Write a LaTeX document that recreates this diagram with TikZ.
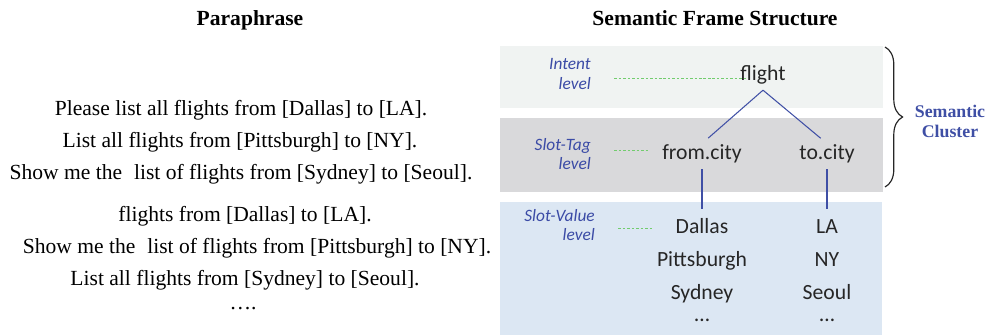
\documentclass[tikz,border=0pt]{standalone}
\usepackage{fontspec}
\setmainfont{Liberation Serif}
\newfontfamily\calib{Carlito}
\usetikzlibrary{calc,decorations.pathreplacing}

\definecolor{lvlblue}{HTML}{3B4BA6}
\definecolor{treeblue}{HTML}{3F4FA5}
\definecolor{guidegreen}{HTML}{72CC6E}
\definecolor{intentbg}{HTML}{F0F3F2}
\definecolor{tagbg}{HTML}{D9D9DB}
\definecolor{valuebg}{HTML}{DCE7F3}

\tikzset{
	sent/.style={anchor=base, inner sep=0pt, font=\fontsize{18.4}{22}\selectfont},
	heading/.style={anchor=base, inner sep=0pt, font=\fontsize{18.4}{22}\selectfont\bfseries},
	frame/.style={anchor=base, inner xsep=0pt, inner ysep=6pt, text height=0.7em, text depth=0.25em,
		font=\calib\fontsize{18.5}{22}\selectfont, text=black!85},
	framerow/.style={frame, inner ysep=1pt},
	framemore/.style={frame, inner ysep=0pt, text height=0.15em, text depth=0pt},
	lvl/.style={anchor=east, inner sep=0pt, align=right, text=lvlblue,
		font=\calib\itshape\fontsize{14.8}{17}\selectfont},
	tie/.style={draw=treeblue, line width=0.9pt, shorten >=7pt},
	guide/.style={draw=guidegreen, line width=0.7pt, dash pattern=on 2.2pt off 1.6pt, shorten <=20pt},
}

\begin{document}
\begin{tikzpicture}[x=0.03cm, y=-0.03cm]
		%%%%% START %%%%%
		\useasboundingbox (0, 0) rectangle (991, 335);
		
		% level bands
		\fill[intentbg] (500, 46) rectangle (883, 108);
		\fill[tagbg] (500, 118) rectangle (883, 192);
		\fill[valuebg] (500, 202) rectangle (882, 335);
		
		\node[heading] (para-title) at (250, 25) {Paraphrase};
		\node[heading] (frame-title) at (715, 25) {Semantic Frame Structure};
		
		% paraphrase sentences
		\node[sent] (s1) at (241, 115) {Please list all flights from [Dallas] to [LA].};
		\node[sent] (s2) at (240, 147) {List all flights from [Pittsburgh] to [NY].};
		\node[sent] (s3) at (241, 179) {Show me the\hspace{0.3em} list of flights from [Sydney] to [Seoul].};
		\node[sent] (s4) at (245, 221) {flights from [Dallas] to [LA].};
		\node[sent] (s5) at (257, 253) {Show me the\hspace{0.3em} list of flights from [Pittsburgh] to [NY].};
		\node[sent] (s6) at (245, 285) {List all flights from [Sydney] to [Seoul].};
		\node[sent] (s7) at (243, 309) {\dots.};
		
		% level names
		\node[lvl] (intent-lbl) at (591, 74) {Intent\\level};
		\node[lvl] (tag-lbl) at (591, 154) {Slot-Tag\\level};
		\node[lvl] (value-lbl) at (595, 225) {Slot-Value\\level};
		
		% frame tree
		\node[frame] (flight) at (763, 80) {flight};
		\node[frame] (from) at (702, 159) {from.city};
		\node[frame] (to) at (827, 159) {to.city};
		\node[frame] (dallas) at (702, 233) {Dallas};
		\node[frame] (la) at (827, 233) {LA};
		\node[framerow] (pitt) at (702, 266) {Pittsburgh};
		\node[framerow] (ny) at (827, 266) {NY};
		\node[framerow] (sydney) at (702, 299) {Sydney};
		\node[framerow] (seoul) at (827, 299) {Seoul};
		\node[framemore] (from-more) at (702, 321) {\dots};
		\node[framemore] (to-more) at (827, 321) {\dots};
		
		\draw[tie] (flight.south) -- (from.north);
		\draw[tie] (flight.south) -- (to.north);
		\draw[tie] (from.south) -- (dallas.north);
		\draw[tie] (to.south) -- (la.north);
		
		% dashed guides from the level names
		\coordinate (intent-end) at (748, 78);
		\coordinate (tag-end) at (648, 150);
		\coordinate (value-end) at (653, 228);
		\draw[guide] (intent-lbl.east |- intent-end) -- (intent-end);
		\draw[guide] (tag-lbl.east |- tag-end) -- (tag-end);
		\draw[guide] (value-lbl.east |- value-end) -- (value-end);
		
		% cluster brace
		\coordinate (brace-top) at (885, 47);
		\coordinate (brace-bot) at (885, 187);
		\draw[black!85, line width=1pt, decorate, decoration={brace, amplitude=15pt}] (brace-top) -- (brace-bot);
		\node[align=center, inner sep=0pt, text=treeblue, font=\fontsize{15.2}{17}\selectfont\bfseries] (cluster) at (950, 121) {Semantic\\Cluster};
		
		%%%%% END %%%%%
	\end{tikzpicture}
\end{document}
